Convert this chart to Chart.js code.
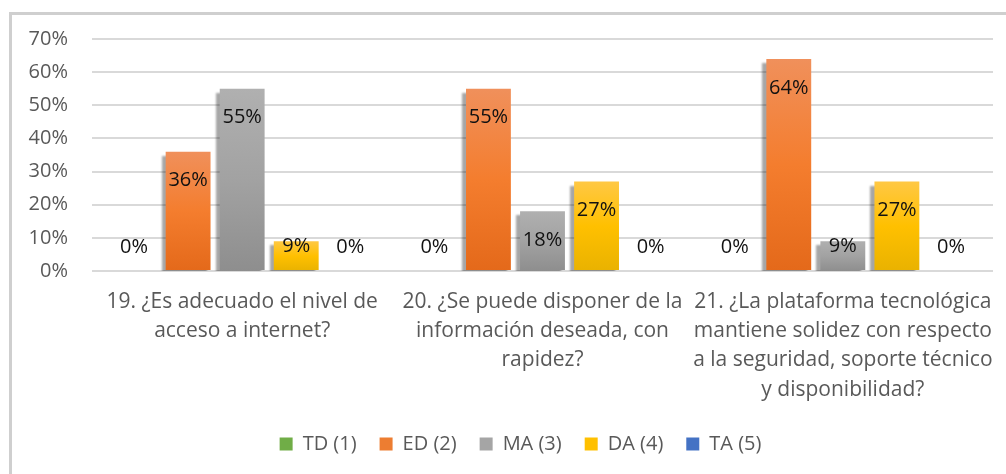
<!DOCTYPE html>
<html>
<head>
<meta charset="utf-8">
<script src="https://cdn.jsdelivr.net/npm/chart.js@4"></script>
<style>
  html, body { margin: 0; padding: 0; background: #fff; overflow: hidden; }
  #frame {
    position: absolute; left: 9px; top: 12px; width: 1200px; height: 700px;
    border-left: 3px solid #cfcfcf; border-top: 3px solid #cfcfcf;
  }
  #chart { position: absolute; left: 0; top: 0; }
</style>
</head>
<body>
<div id="frame"></div>
<canvas id="chart" width="1006" height="474"></canvas>
<script>
// data
const categories = [
  ["19. ¿Es adecuado el nivel de", "acceso a internet?"],
  ["20. ¿Se puede disponer de la", "información deseada, con", "rapidez?"],
  ["21. ¿La plataforma tecnológica", "mantiene solidez con respecto", "a la seguridad, soporte técnico", "y disponibilidad?"]
];
const seriesNames = ["TD (1)", "ED (2)", "MA (3)", "DA (4)", "TA (5)"];
const tdValues = [0, 0, 0];
const edValues = [0.36, 0.55, 0.64];
const maValues = [0.55, 0.18, 0.09];
const daValues = [0.09, 0.27, 0.27];
const taValues = [0, 0, 0];
const yTicks = [0, 0.1, 0.2, 0.3, 0.4, 0.5, 0.6, 0.7];

// colour stops per series (top -> bottom)
const palette = [
  { solid: "#70AD47", stops: ["#7DBA55", "#70AD47", "#62A03A"] },
  { solid: "#ED7D31", stops: ["#F0905B", "#F47D2E", "#E4691A"] },
  { solid: "#A5A5A5", stops: ["#B0B0B0", "#A2A2A2", "#8E8E8E"] },
  { solid: "#FFC000", stops: ["#FFC844", "#FFC000", "#E9B200"] },
  { solid: "#4472C4", stops: ["#5A84CE", "#4472C4", "#3964B4"] }
];

const FONT = "'Open Sans', Lato, sans-serif";

function barFill(idx) {
  return c => {
    const p = palette[idx];
    const chart = c.chart;
    if (c.type !== "data" || !chart.chartArea || !chart.scales.y) return p.solid;
    const top = chart.scales.y.getPixelForValue(c.raw);
    const bottom = chart.scales.y.getPixelForValue(0);
    if (bottom - top < 1) return p.solid;
    const g = chart.ctx.createLinearGradient(0, top, 0, bottom);
    g.addColorStop(0, p.stops[0]);
    g.addColorStop(0.5, p.stops[1]);
    g.addColorStop(1, p.stops[2]);
    return g;
  };
}

// soft offset shadow like the office 3D look
const barShadow = {
  id: "barShadow",
  beforeDatasetsDraw(chart) {
    const ctx = chart.ctx;
    ctx.save();
    ctx.shadowColor = "rgba(0,0,0,0.35)";
    ctx.shadowOffsetX = -4;
    ctx.shadowOffsetY = 4;
    ctx.shadowBlur = 2;
  },
  afterDatasetsDraw(chart) {
    chart.ctx.restore();
  }
};

// value labels near the top, kept above the base for small bars
const valueLabels = {
  id: "valueLabels",
  afterDatasetsDraw(chart) {
    const ctx = chart.ctx;
    ctx.save();
    ctx.font = "20px " + FONT;
    ctx.fillStyle = "#111";
    ctx.textAlign = "center";
    ctx.textBaseline = "middle";
    chart.data.datasets.forEach((ds, i) => {
      chart.getDatasetMeta(i).data.forEach((bar, j) => {
        const y = Math.min(bar.y + 29, bar.base - 24);
        ctx.fillText(Math.round(ds.data[j] * 100) + "%", bar.x, y);
      });
    });
    ctx.restore();
  }
};

// the legend in the original sits a bit right of centre
const legendShift = {
  id: "legendShift",
  afterLayout(chart) {
    if (chart.legend) { chart.legend.left += 10; chart.legend.right += 10; }
  }
};

const allSeries = [tdValues, edValues, maValues, daValues, taValues];

new Chart(document.getElementById("chart"), {
  type: "bar",
  data: {
    labels: categories,
    datasets: allSeries.map((vals, i) => ({
      label: seriesNames[i],
      data: vals,
      backgroundColor: barFill(i),
      borderWidth: 0,
      categoryPercentage: 0.9,
      barPercentage: 0.83
    }))
  },
  options: {
    responsive: false,
    animation: false,
    layout: { padding: { left: 28, right: 13, top: 39, bottom: 10 } },
    plugins: {
      tooltip: { enabled: false },
      legend: {
        position: "bottom",
        labels: {
          font: { family: FONT, size: 20 },
          color: "#595959",
          boxWidth: 13,
          boxHeight: 13,
          padding: 23,
          generateLabels: chart => seriesNames.map((n, i) => ({
            text: n,
            fillStyle: palette[i].solid,
            strokeStyle: palette[i].solid,
            lineWidth: 0,
            fontColor: "#595959",
            datasetIndex: i
          }))
        }
      }
    },
    scales: {
      x: {
        grid: { display: false },
        border: { display: false },
        afterFit: s => { s.paddingLeft = 0; s.paddingRight = 0; s.height = 140; },
        ticks: {
          font: { family: FONT, size: 21, lineHeight: 1.4 },
          color: "#595959",
          maxRotation: 0,
          autoSkip: false,
          padding: 8
        }
      },
      y: {
        min: 0,
        max: 0.7,
        afterBuildTicks: axis => { axis.ticks = yTicks.map(v => ({ value: v })); },
        afterFit: s => { s.width = 64; },
        grid: { color: "#d9d9d9", lineWidth: 2, drawTicks: false },
        border: { display: false },
        ticks: {
          font: { family: FONT, size: 20 },
          color: "#595959",
          padding: 24,
          callback: v => Math.round(v * 100) + "%"
        }
      }
    }
  },
  plugins: [barShadow, valueLabels, legendShift]
});
</script>
</body>
</html>
